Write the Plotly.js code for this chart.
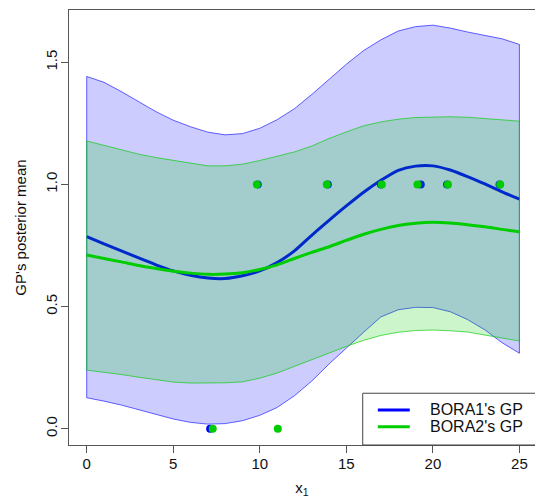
<!DOCTYPE html>
<html>
<head>
<meta charset="utf-8">
<script src="https://cdn.plot.ly/plotly-3.0.1.min.js"></script>
<style>
  html, body { margin: 0; padding: 0; background: #ffffff; overflow: hidden; }
  #chart { width: 535px; height: 498px; }
</style>
</head>
<body>
<div id="chart"></div>
<script>
// Input grid shared by both GP posteriors
const x1Grid = [0, 1, 2, 3, 4, 5, 6, 7, 8, 9, 10, 11, 12, 13, 14, 15, 16, 17, 18, 19, 20, 21, 22, 23, 24, 25];

// BORA1's GP: posterior mean with upper / lower band
const bora1Mean  = [0.786, 0.757, 0.728, 0.699, 0.671, 0.646, 0.628, 0.617, 0.615, 0.626, 0.646, 0.680, 0.728, 0.792, 0.853, 0.912, 0.968, 1.017, 1.058, 1.075, 1.076, 1.059, 1.032, 1.002, 0.970, 0.940];
const bora1Upper = [1.442, 1.418, 1.380, 1.339, 1.298, 1.263, 1.236, 1.214, 1.203, 1.208, 1.230, 1.265, 1.310, 1.368, 1.430, 1.492, 1.548, 1.592, 1.628, 1.646, 1.652, 1.640, 1.624, 1.611, 1.596, 1.573];
const bora1Lower = [0.127, 0.113, 0.097, 0.080, 0.060, 0.040, 0.026, 0.019, 0.021, 0.033, 0.055, 0.087, 0.135, 0.195, 0.265, 0.332, 0.395, 0.458, 0.487, 0.497, 0.496, 0.479, 0.447, 0.405, 0.352, 0.309];

// BORA2's GP: posterior mean with upper / lower band
const bora2Mean  = [0.711, 0.697, 0.683, 0.668, 0.656, 0.645, 0.637, 0.632, 0.633, 0.639, 0.652, 0.671, 0.697, 0.722, 0.745, 0.771, 0.796, 0.816, 0.832, 0.841, 0.845, 0.842, 0.835, 0.827, 0.816, 0.806];
const bora2Upper = [1.178, 1.160, 1.142, 1.124, 1.110, 1.098, 1.086, 1.076, 1.076, 1.083, 1.098, 1.114, 1.133, 1.157, 1.188, 1.215, 1.240, 1.256, 1.267, 1.274, 1.277, 1.277, 1.275, 1.270, 1.265, 1.259];
const bora2Lower = [0.240, 0.231, 0.222, 0.211, 0.200, 0.191, 0.187, 0.186, 0.188, 0.192, 0.207, 0.228, 0.255, 0.282, 0.310, 0.337, 0.362, 0.382, 0.395, 0.402, 0.404, 0.401, 0.396, 0.386, 0.372, 0.359];

// Observed evaluations (x1, outcome)
const bora1ObsX = [7.13, 9.88, 13.93, 17.0, 19.3, 20.82, 23.85];
const bora1ObsY = [0, 1, 1, 1, 1, 1, 1];
const bora2ObsX = [7.28, 11.04, 9.83, 13.87, 17.05, 19.11, 20.87, 23.89];
const bora2ObsY = [0, 0, 1, 1, 1, 1, 1, 1];

// Axis ticks
const xTicks = [0, 5, 10, 15, 20, 25];
const yTicks = [0.0, 0.5, 1.0, 1.5];
const yTickText = ['0.0', '0.5', '1.0', '1.5'];

// Legend entries
const legendNames = ["BORA1's GP", "BORA2's GP"];
const legendColors = ['#0000ff', '#00cd00'];

const FONT = 'Liberation Sans, Arial, sans-serif';
const TEXT = '#111111';

// Closed polygon: upper edge left-to-right, lower edge right-to-left
function bandPolygon(xs, upper, lower) {
  const px = xs.concat(xs.slice().reverse(), [xs[0]]);
  const py = upper.concat(lower.slice().reverse(), [upper[0]]);
  return { x: px, y: py };
}

const band1 = bandPolygon(x1Grid, bora1Upper, bora1Lower);
const band2 = bandPolygon(x1Grid, bora2Upper, bora2Lower);

const traces = [
  {
    x: band1.x, y: band1.y, type: 'scatter', mode: 'lines',
    fill: 'toself', fillcolor: 'rgba(0,0,255,0.2)',
    line: { color: 'rgba(0,0,255,0.6)', width: 1 },
    hoverinfo: 'skip'
  },
  {
    x: x1Grid, y: bora1Mean, type: 'scatter', mode: 'lines',
    name: legendNames[0],
    line: { color: legendColors[0], width: 3, shape: 'spline', smoothing: 0.6 }
  },
  {
    x: bora1ObsX, y: bora1ObsY, type: 'scatter', mode: 'markers',
    marker: { color: legendColors[0], size: 8 }
  },
  {
    x: band2.x, y: band2.y, type: 'scatter', mode: 'lines',
    fill: 'toself', fillcolor: 'rgba(0,205,0,0.2)',
    line: { color: 'rgba(0,205,0,0.65)', width: 1 },
    hoverinfo: 'skip'
  },
  {
    x: x1Grid, y: bora2Mean, type: 'scatter', mode: 'lines',
    name: legendNames[1],
    line: { color: legendColors[1], width: 3, shape: 'spline', smoothing: 0.6 }
  },
  {
    x: bora2ObsX, y: bora2ObsY, type: 'scatter', mode: 'markers',
    marker: { color: legendColors[1], size: 8 }
  }
];

// Legend box in the bottom-right corner, running off the right edge like the plot frame
const legBox = { x0: 0.6303, x1: 1.02, y0: 0, y1: 0.119 };
const legRows = [0.0805, 0.0421];
const legLineX = [0.6627, 0.7313];
const legTextX = 0.7697;

const shapes = [
  {
    type: 'rect', xref: 'paper', yref: 'paper',
    x0: legBox.x0, x1: legBox.x1, y0: legBox.y0, y1: legBox.y1,
    line: { color: '#444444', width: 1 }, fillcolor: '#ffffff', layer: 'above'
  }
].concat(legRows.map((ry, i) => ({
  type: 'line', xref: 'paper', yref: 'paper',
  x0: legLineX[0], x1: legLineX[1], y0: ry, y1: ry,
  line: { color: legendColors[i], width: 3 }, layer: 'above'
})));

const annotations = legRows.map((ry, i) => ({
  xref: 'paper', yref: 'paper', x: legTextX, y: ry,
  xanchor: 'left', yanchor: 'middle', showarrow: false,
  text: legendNames[i],
  font: { family: FONT, size: 16, color: TEXT }
}));

const layout = {
  width: 535,
  height: 498,
  margin: { l: 69, r: 0, t: 10, b: 53, pad: 0 },
  paper_bgcolor: '#ffffff',
  plot_bgcolor: '#ffffff',
  font: { family: FONT, size: 15, color: TEXT },
  showlegend: false,
  xaxis: {
    range: [-1.023, 25.9],
    tickvals: xTicks,
    ticktext: xTicks.map(String),
    ticks: 'outside', ticklen: 7, tickwidth: 1, tickcolor: '#555555',
    showline: true, linecolor: '#555555', linewidth: 1, mirror: true,
    showgrid: false, zeroline: false,
    ticklabelstandoff: -2,
    tickfont: { family: FONT, size: 15, color: TEXT },
    title: { text: 'x<sub>1</sub>', font: { family: FONT, size: 15, color: TEXT }, standoff: 14 },
    automargin: false
  },
  yaxis: {
    range: [-0.0665, 1.714],
    tickvals: yTicks,
    ticktext: yTickText,
    tickangle: -90,
    ticks: 'outside', ticklen: 7, tickwidth: 1, tickcolor: '#555555',
    showline: true, linecolor: '#555555', linewidth: 1, mirror: false,
    ticklabelstandoff: -2,
    showgrid: false, zeroline: false,
    tickfont: { family: FONT, size: 15, color: TEXT },
    title: { text: "GP's posterior mean", font: { family: FONT, size: 15, color: TEXT }, standoff: 12 },
    automargin: false
  },
  shapes: shapes,
  annotations: annotations
};

Plotly.newPlot('chart', traces, layout, { displayModeBar: false, staticPlot: true });
</script>
</body>
</html>
